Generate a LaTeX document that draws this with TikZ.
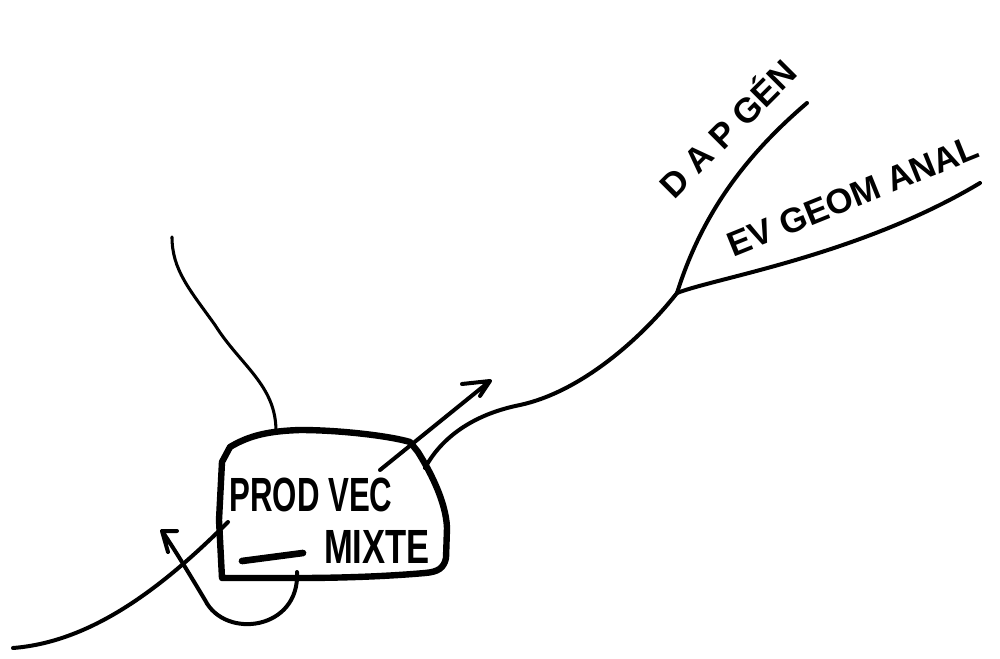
\documentclass[tikz,border=0pt]{standalone}
\usepackage{fontspec}
\setmainfont{Liberation Sans}
\begin{document}
\begin{tikzpicture}[x=0.75pt,y=-0.75pt,line cap=round,line join=round,
  stroke/.style={line width=3pt},
  thinstroke/.style={line width=2.3pt},
  boxline/.style={line width=4.8pt},
  hand/.style={font=\bfseries\fontsize{36}{40}\selectfont,inner sep=0pt,transform shape},
  lbl/.style={font=\bfseries\fontsize{26}{30}\selectfont,inner sep=0pt,transform shape}]
\useasboundingbox[fill=white] (0,0) rectangle (1000,659);

% central box
\draw[boxline] (222,578) -- (219,520) -- (222,462) -- (230,447)
  .. controls (250,435) and (270,431) .. (300,430)
  .. controls (340,430) and (390,436) .. (410,442) -- (418,452)
  .. controls (428,468) and (446,500) .. (447,528) -- (446,558)
  .. controls (444,568) and (438,572) .. (425,573)
  .. controls (380,577) and (330,578) .. (300,578) -- cycle;
\node[hand,xscale=0.65] (prod) at (311,495) {PROD VEC};
\node[hand,xscale=0.72] (mixte) at (377,547) {MIXTE};
\draw[line width=5pt] (242,561) -- (303,553);

% coordinates
\coordinate (boxtop) at (276,431);
\coordinate (topend) at (172,237);
\coordinate (boxright) at (425,468);
\coordinate (fork) at (677,293);
\coordinate (dapend) at (807,103);
\coordinate (evend) at (980,183);
\coordinate (arrstart) at (380,470);
\coordinate (arrtip) at (490,381);
\coordinate (loopstart) at (297,572);
\coordinate (looptip) at (162,531);
\coordinate (leftend) at (13,648);
\coordinate (leftin) at (228,522);

% branches
\draw[thinstroke] (boxtop) .. controls (276,385) and (240,365) .. (215,325)
  .. controls (190,290) and (172,270) .. (topend);
\draw[stroke] (boxright) .. controls (440,440) and (470,415) .. (520,405)
  .. controls (580,392) and (640,340) .. (fork);
\draw[stroke] (fork) .. controls (700,220) and (740,160) .. (dapend);
\draw[stroke] (fork) .. controls (715,278) and (860,255) .. (evend);

% arrows
\draw[stroke] (arrstart) -- (arrtip) -- ++(-28,3) (arrtip) -- ++(-10,15);
\draw[stroke] (loopstart) .. controls (300,630) and (225,640) .. (205,600)
  .. controls (190,575) and (175,550) .. (looptip) -- ++(15,0) (looptip) -- ++(6,21);
\draw[stroke] (leftend) .. controls (90,642) and (160,590) .. (leftin);

% labels
\node[lbl,rotate=45] (dap) at (726,127) {D A P GÉN};
\node[lbl,rotate=22] (ev) at (853,196) {EV GEOM ANAL};
\end{tikzpicture}
\end{document}
